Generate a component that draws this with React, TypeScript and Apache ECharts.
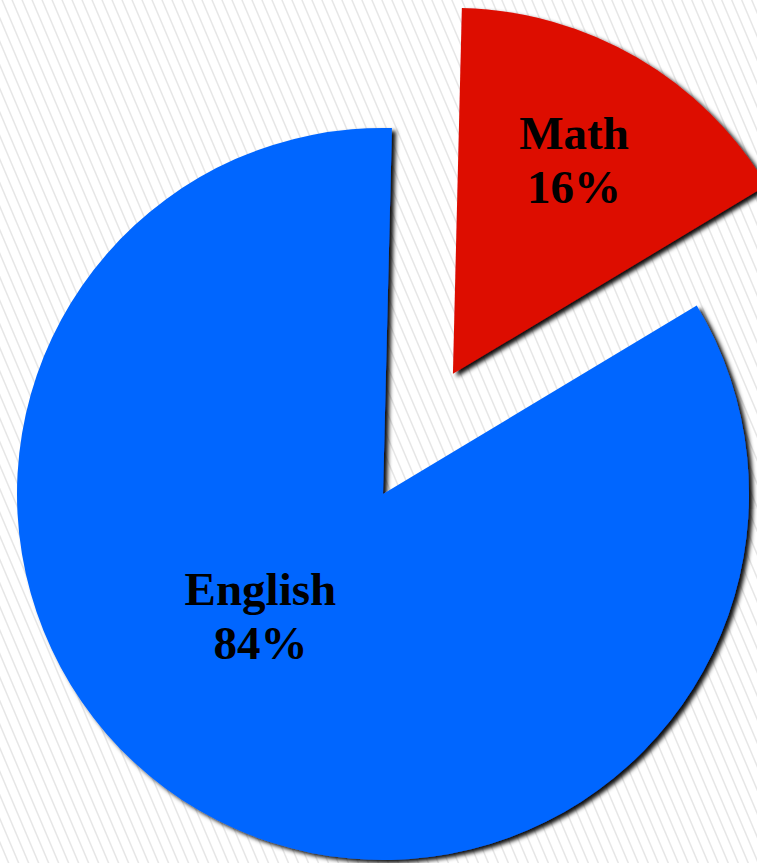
import React, { useEffect, useRef } from "react";
import * as echarts from "echarts";

const categories = ["Math", "English"];
const values = [16, 84];
const colors = ["#DD0A05", "#0066FF"];
const explodedIndex = 0;

const W = 757;
const H = 863;
const CX = 383;
const CY = 494;
const R = 366;
const START_ANGLE = 88.6;
const EXPLODE = 139;
// label anchor positions relative to the un-exploded pie center, in radius units
const labelAnchors = [
  [0.522, -0.913],
  [-0.335, 0.333],
];

export default function App() {
  const ref = useRef<HTMLDivElement>(null);
  useEffect(() => {
    if (!ref.current) return;
    const chart = echarts.init(ref.current, undefined, { renderer: "svg", width: W, height: H });

    const total = values.reduce((a, b) => a + b, 0);
    let before = 0;
    for (let i = 0; i < explodedIndex; i++) before += values[i];
    const midDeg = START_ANGLE - ((before + values[explodedIndex] / 2) / total) * 360;
    const mid = (midDeg * Math.PI) / 180;
    const ex = Math.cos(mid) * EXPLODE;
    const ey = -Math.sin(mid) * EXPLODE;

    const shadow = {
      borderWidth: 0,
      shadowColor: "rgba(0,0,0,0.95)",
      shadowBlur: 4,
      shadowOffsetX: 4,
      shadowOffsetY: 3,
    };
    const hidden = {
      itemStyle: { color: "rgba(0,0,0,0)", shadowColor: "rgba(0,0,0,0)", shadowBlur: 0, borderWidth: 0 },
      label: { show: false },
    };
    const makeData = (showExploded: boolean) =>
      categories.map((name, i) => {
        const visible = (i === explodedIndex) === showExploded;
        return visible
          ? { name, value: values[i], itemStyle: { color: colors[i] } }
          : { name, value: values[i], ...hidden };
      });

    const base = {
      type: "pie",
      radius: [0, R],
      startAngle: START_ANGLE,
      clockwise: true,
      selectedMode: false,
      avoidLabelOverlap: false,
      percentPrecision: 0,
      emphasis: { disabled: true },
      silent: true,
      itemStyle: shadow,
      label: {
        show: true,
        position: "inside",
        formatter: "{b}\n{d}%",
        fontFamily: "'Liberation Serif', 'Times New Roman', serif",
        fontWeight: "bold",
        fontSize: 47,
        lineHeight: 54,
        color: "#000",
        align: "center",
        verticalAlign: "middle",
      },
      labelLine: { show: false },
      labelLayout: (params: any) => {
        const a = labelAnchors[params.dataIndex];
        return { x: CX + a[0] * R, y: CY + a[1] * R, align: "center", verticalAlign: "middle" };
      },
    };

    chart.setOption({
      animation: false,
      backgroundColor: "transparent",
      series: [
        { ...base, id: "rest", center: [CX, CY], data: makeData(false) },
        { ...base, id: "exploded", center: [CX + ex, CY + ey], data: makeData(true) },
      ],
    });
    return () => chart.dispose();
  }, []);
  return (
    <div
      style={{
        position: "fixed",
        left: 0,
        top: 0,
        width: W,
        height: H,
        background:
          "repeating-linear-gradient(67deg, #ffffff 0px, #ffffff 6.7px, #e6e6e6 7.7px, #e6e6e6 8.2px, #ffffff 9.2px)",
      }}
    >
      <div ref={ref} style={{ width: W, height: H }} />
    </div>
  );
}
